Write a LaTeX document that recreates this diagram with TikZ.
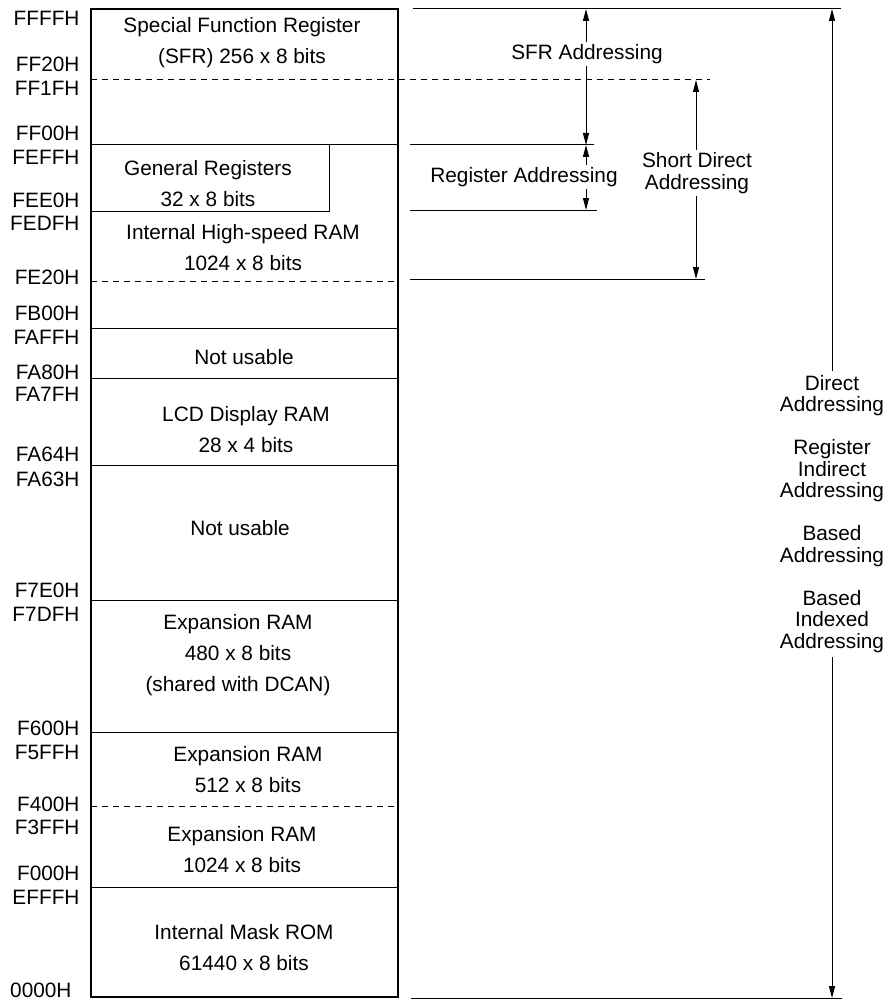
\documentclass[tikz,border=0pt]{standalone}
\usepackage{fontspec}
\setmainfont{Liberation Sans}
\usetikzlibrary{arrows.meta}
\tikzset{
  addrlbl/.style={anchor=east, inner sep=0pt},
  cellText/.style={align=center, inner sep=0pt, font=\fontsize{20.8}{31}\selectfont},
  modeText/.style={align=center, fill=white, inner sep=2.5pt, font=\fontsize{20.8}{22}\selectfont},
  dimArrow/.style={{Triangle[length=12pt,width=6pt]}-{Triangle[length=12pt,width=6pt]}},
  dashsep/.style={dash pattern=on 6pt off 5pt},
}
\begin{document}
\begin{tikzpicture}[x=1pt, y=-1pt, line width=1pt, font=\fontsize{20.8}{25}\selectfont]
  \useasboundingbox (0,0) rectangle (888,1003);

  \draw[line width=2pt] (91,9) rectangle (398,997);
  \draw[dashsep] (91,80) -- (710,80);
  \draw[] (91,145) -- (398,145);
  \draw[] (91,211) -- (329,211) -- (329,145);
  \draw[dashsep] (91,281) -- (398,281);
  \foreach \y in {328,378,465,600,732,887}
    \draw[] (91,\y) -- (398,\y);
  \draw[dashsep] (91,806) -- (398,806);

  \draw[] (413,9) -- (841,9);
  \draw[] (410,145) -- (594,145);
  \draw[] (410,210) -- (597,210);
  \draw[] (410,279) -- (705,279);
  \draw[] (411,998) -- (842,998);

  \foreach \y/\t [count=\i] in {18/FFFFH, 64/FF20H, 88/FF1FH, 133/FF00H,
      157/FEFFH, 200/FEE0H, 223/FEDFH, 277/FE20H, 313/FB00H, 337/FAFFH,
      372/FA80H, 394/FA7FH, 454/FA64H, 479/FA63H, 590/F7E0H, 614/F7DFH,
      728/F600H, 752/F5FFH, 804/F400H, 827/F3FFH, 873/F000H, 897/EFFFH}
    \node[addrlbl] (addr\i) at (80,\y) {\t};
  \node[addrlbl] (addr0) at (72,990) {0000H};

  \node[cellText] (sfr) at (242,43) {Special Function Register\\(SFR) 256 x 8 bits};
  \node[cellText] (greg) at (208,184) {General Registers\\32 x 8 bits};
  \node[cellText] (hsram) at (243,248) {Internal High-speed RAM\\1024 x 8 bits};
  \node[cellText] (nouse1) at (244,357) {Not usable};
  \node[cellText] (lcd) at (246,430) {LCD Display RAM\\28 x 4 bits};
  \node[cellText] (nouse2) at (240,528) {Not usable};
  \node[cellText] (xram1) at (238,655) {Expansion RAM\\480 x 8 bits\\(shared with DCAN)};
  \node[cellText] (xram2) at (248,770) {Expansion RAM\\512 x 8 bits};
  \node[cellText] (xram3) at (242,850) {Expansion RAM\\1024 x 8 bits};
  \node[cellText] (rom) at (244,948) {Internal Mask ROM\\61440 x 8 bits};

  \coordinate (sfrTop) at (586,9);
  \coordinate (sfrBot) at (586,145);
  \coordinate (regBot) at (586,210);
  \coordinate (sdaTop) at (696,80);
  \coordinate (sdaBot) at (696,279);
  \coordinate (dirTop) at (832,9);
  \coordinate (dirBot) at (832,998);

  \draw[dimArrow] (sfrTop) -- (sfrBot);
  \draw[dimArrow] (sfrBot) -- (regBot);
  \draw[dimArrow] (sdaTop) -- (sdaBot);
  \draw[dimArrow] (dirTop) -- (dirBot);

  \node[modeText] (sfrMode) at (587,54) {SFR Addressing};
  \node[modeText] (regMode) at (524,177) {Register Addressing};
  \node[modeText] (sdaMode) at (697,173) {Short Direct\\Addressing};
  \node[modeText, inner ysep=4pt, font=\fontsize{20.8}{21.5}\selectfont] (dirMode) at (832,514)
    {Direct\\Addressing\\[21.5pt]Register\\Indirect\\Addressing\\[21.5pt]Based\\Addressing\\[21.5pt]Based\\Indexed\\Addressing};
\end{tikzpicture}
\end{document}
